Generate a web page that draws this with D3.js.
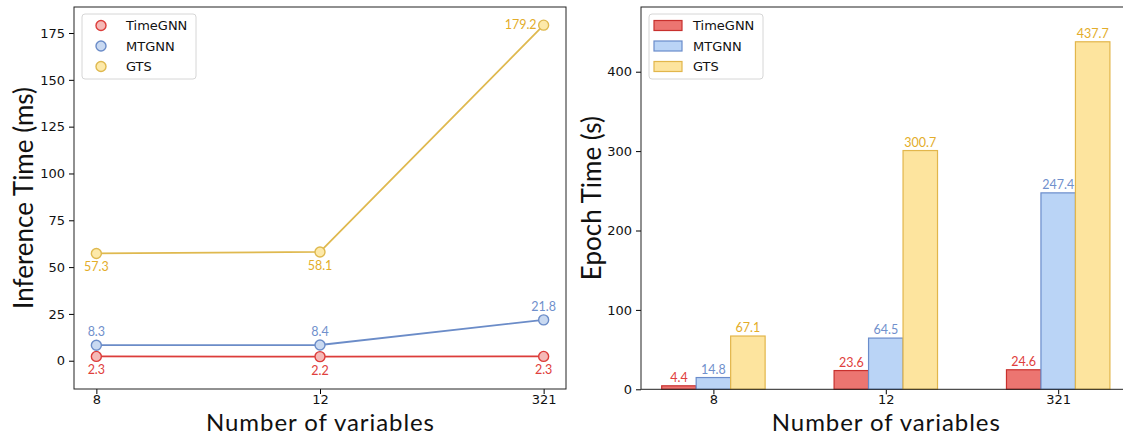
<!DOCTYPE html>
<html>
<head>
<meta charset="utf-8">
<script src="https://cdn.jsdelivr.net/npm/d3@7"></script>
<style>
  body { margin: 0; background: #fff; }
  svg { display: block; }
  .tick text { font-family: "DejaVu Sans", sans-serif; font-size: 13px; fill: #111; }
  .title { font-family: Lato, "Open Sans", sans-serif; fill: #111; }
  .val { font-family: Lato, "Open Sans", sans-serif; font-size: 12.5px; }
  .leg { font-family: "DejaVu Sans", sans-serif; font-size: 13px; fill: #111; }
</style>
</head>
<body>
<svg id="chart" width="1123" height="436"></svg>
<script>
const categories = ["8", "12", "321"];
const models = ["TimeGNN", "MTGNN", "GTS"];
const inferenceTime = {
  TimeGNN: [2.3, 2.2, 2.3],
  MTGNN: [8.3, 8.4, 21.8],
  GTS: [57.3, 58.1, 179.2],
};
const epochTime = {
  TimeGNN: [4.4, 23.6, 24.6],
  MTGNN: [14.8, 64.5, 247.4],
  GTS: [67.1, 300.7, 437.7],
};
const leftTicks = [0, 25, 50, 75, 100, 125, 150, 175];
const rightTicks = [0, 100, 200, 300, 400];

const style = {
  TimeGNN: { line: "#dc3d3a", fill: "#f5b9b7", bar: "#ec7571", edge: "#c8302d", text: "#e0403c" },
  MTGNN: { line: "#6b8cc8", fill: "#c9d9f1", bar: "#bad4f6", edge: "#6a8ccb", text: "#7090cc" },
  GTS: { line: "#dfb94f", fill: "#fde9a9", bar: "#fde49e", edge: "#e2b64b", text: "#e3ad2a" },
};

const svg = d3.select("#chart");

// x tick labels sit tight under the axis, the big title right below them
const xTicks = (g) => {
  g.select(".domain").remove();
  g.selectAll(".tick text").attr("dy", null).attr("y", 14.5);
};

// ---------- left: inference time (line chart) ----------
const L = { left: 74, right: 566, top: 7, bottom: 389 };
const xl = d3.scaleLinear().domain([-0.1, 2.1]).range([L.left, L.right]);
const yl = d3.scaleLinear().domain([-15.1, 188.9]).range([L.bottom, L.top]);

const gl = svg.append("g");
gl.append("g")
  .attr("transform", `translate(${L.left},0)`)
  .call(d3.axisLeft(yl).tickValues(leftTicks).tickSize(5).tickPadding(4))
  .call((g) => g.select(".domain").remove());
gl.append("g")
  .attr("transform", `translate(0,${L.bottom})`)
  .call(d3.axisBottom(xl).tickValues([0, 1, 2]).tickFormat((i) => categories[i]).tickSize(5))
  .call(xTicks);
gl.append("rect")
  .attr("x", L.left).attr("y", L.top)
  .attr("width", L.right - L.left).attr("height", L.bottom - L.top)
  .attr("fill", "none").attr("stroke", "#222").attr("stroke-width", 1);

const line = d3.line().x((d, i) => xl(i)).y((d) => yl(d));
models.forEach((m) => {
  const s = style[m];
  const vals = inferenceTime[m];
  gl.append("path").attr("d", line(vals))
    .attr("fill", "none").attr("stroke", s.line).attr("stroke-width", 1.8);
  gl.selectAll(null).data(vals).join("circle")
    .attr("cx", (d, i) => xl(i)).attr("cy", (d) => yl(d)).attr("r", 5)
    .attr("fill", s.fill).attr("stroke", s.line).attr("stroke-width", 1.4);
  gl.selectAll(null).data(vals).join("text")
    .attr("class", "val").attr("fill", s.text)
    .attr("x", (d, i) => (m === "GTS" && i === 2 ? xl(i) - 7 : xl(i)))
    .attr("y", (d, i) => {
      if (m === "MTGNN") return yl(d) - 9;
      if (m === "GTS" && i === 2) return yl(d) + 4;
      return yl(d) + 18;
    })
    .attr("text-anchor", (d, i) => (m === "GTS" && i === 2 ? "end" : "middle"))
    .text((d) => d.toFixed(1));
});

gl.append("text").attr("class", "title")
  .attr("transform", `translate(33,${(L.top + L.bottom) / 2}) rotate(-90)`)
  .attr("text-anchor", "middle").attr("font-size", 26)
  .text("Inference Time (ms)");
gl.append("text").attr("class", "title")
  .attr("x", (L.left + L.right) / 2).attr("y", 430.8)
  .attr("text-anchor", "middle").attr("font-size", 24)
  .attr("textLength", 228).attr("lengthAdjust", "spacing")
  .text("Number of variables");

// legend
const lgl = gl.append("g").attr("transform", "translate(82,14)");
lgl.append("rect").attr("width", 114).attr("height", 65).attr("rx", 3)
  .attr("fill", "#fff").attr("stroke", "#d6d6d6");
models.forEach((m, i) => {
  const s = style[m];
  lgl.append("circle").attr("cx", 19).attr("cy", 11.5 + i * 20.5).attr("r", 5)
    .attr("fill", s.fill).attr("stroke", s.line).attr("stroke-width", 1.4);
  lgl.append("text").attr("class", "leg").attr("x", 44).attr("y", 16 + i * 20.5).text(m);
});

// ---------- right: epoch time (grouped bars) ----------
const R = { left: 641, right: 1130.6, top: 7, bottom: 389.3 };
const xr = d3.scaleLinear().domain([-0.42, 2.42]).range([R.left, R.right]);
const yr = d3.scaleLinear().domain([0, 481.5]).range([R.bottom, R.top]);
const barW = 0.2;

const gr = svg.append("g");
gr.append("g")
  .attr("transform", `translate(${R.left},0)`)
  .call(d3.axisLeft(yr).tickValues(rightTicks).tickSize(5).tickPadding(4))
  .call((g) => g.select(".domain").remove());
gr.append("g")
  .attr("transform", `translate(0,${R.bottom})`)
  .call(d3.axisBottom(xr).tickValues([0, 1, 2]).tickFormat((i) => categories[i]).tickSize(5))
  .call(xTicks);

models.forEach((m, k) => {
  const s = style[m];
  const vals = epochTime[m];
  const off = (k - 1) * barW;
  gr.selectAll(null).data(vals).join("rect")
    .attr("x", (d, i) => xr(i + off - barW / 2))
    .attr("y", (d) => yr(d))
    .attr("width", xr(barW) - xr(0))
    .attr("height", (d) => yr(0) - yr(d))
    .attr("fill", s.bar).attr("stroke", s.edge).attr("stroke-width", 1.2);
  gr.selectAll(null).data(vals).join("text")
    .attr("class", "val").attr("fill", s.text)
    .attr("x", (d, i) => xr(i + off))
    .attr("y", (d) => yr(d) - 4)
    .attr("text-anchor", "middle")
    .text((d) => d.toFixed(1));
});

gr.append("rect")
  .attr("x", R.left).attr("y", R.top)
  .attr("width", R.right - R.left).attr("height", R.bottom - R.top)
  .attr("fill", "none").attr("stroke", "#222").attr("stroke-width", 1);

gr.append("text").attr("class", "title")
  .attr("transform", `translate(601,${(R.top + R.bottom) / 2}) rotate(-90)`)
  .attr("text-anchor", "middle").attr("font-size", 26)
  .text("Epoch Time (s)");
gr.append("text").attr("class", "title")
  .attr("x", (R.left + R.right) / 2).attr("y", 430.8)
  .attr("text-anchor", "middle").attr("font-size", 24)
  .attr("textLength", 228).attr("lengthAdjust", "spacing")
  .text("Number of variables");

const lgr = gr.append("g").attr("transform", "translate(649,14)");
lgr.append("rect").attr("width", 114).attr("height", 65).attr("rx", 3)
  .attr("fill", "#fff").attr("stroke", "#d6d6d6");
models.forEach((m, i) => {
  const s = style[m];
  lgr.append("rect").attr("x", 5).attr("y", 6.5 + i * 20.5).attr("width", 28).attr("height", 10)
    .attr("fill", s.bar).attr("stroke", s.edge).attr("stroke-width", 1.2);
  lgr.append("text").attr("class", "leg").attr("x", 44).attr("y", 16 + i * 20.5).text(m);
});
</script>
</body>
</html>
